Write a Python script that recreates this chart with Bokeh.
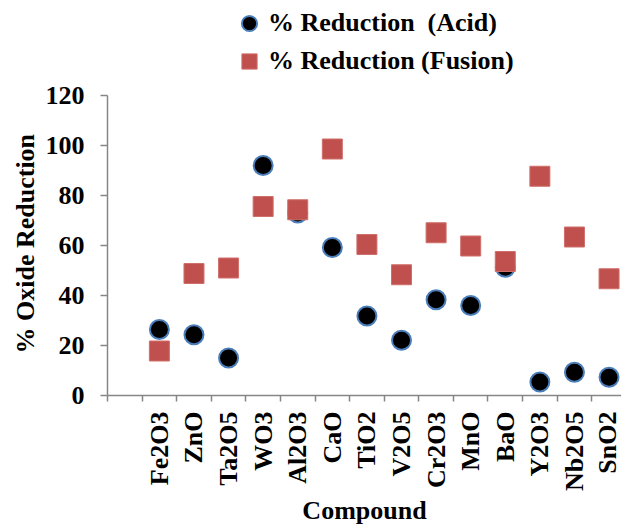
import math
from bokeh.plotting import figure
from bokeh.models import Range1d, FixedTicker, Legend, LegendItem, ColumnDataSource, Title
from bokeh.embed import file_html
from bokeh.resources import INLINE

compounds = ["Fe2O3", "ZnO", "Ta2O5", "WO3", "Al2O3", "CaO", "TiO2", "V2O5",
             "Cr2O3", "MnO", "BaO", "Y2O3", "Nb2O5", "SnO2"]
acid = [26.4, 24.3, 15.0, 92.0, 73.0, 59.2, 31.8, 22.1, 38.3, 36.0, 51.3, 5.4, 9.3, 7.3]
fusion = [17.8, 48.8, 51.0, 75.6, 74.3, 98.6, 60.4, 48.3, 65.1, 59.8, 53.6, 87.7, 63.4, 46.7]
y_ticks = [0, 20, 40, 60, 80, 100, 120]
acid_label = "% Reduction  (Acid)"
fusion_label = "% Reduction (Fusion)"
x_title = "Compound"
y_title = "% Oxide Reduction"

FONT = "Liberation Serif"
AXIS_COLOR = "#868686"

# category i sits in the slot [i+1, i+2]; the first slot is empty
xpos = [i + 1.5 for i in range(len(compounds))]
src = ColumnDataSource(dict(x=xpos, acid=acid, fusion=fusion))

# frame reaches the top of the canvas so the legend can sit above the axis
p = figure(width=621, height=527, output_backend="svg", toolbar_location=None,
           x_range=Range1d(0, 14.86), y_range=Range1d(0, 158),
           min_border_left=107, min_border_right=0, min_border_top=0,
           min_border_bottom=132)
p.outline_line_color = None
p.xgrid.visible = False
p.ygrid.visible = False
p.background_fill_color = "white"
p.border_fill_color = "white"

r_acid = p.scatter("x", "acid", source=src, marker="circle", size=19,
                   fill_color="black", line_color="#4A7EBB", line_width=2)
r_fus = p.scatter("x", "fusion", source=src, marker="square", size=20,
                  fill_color="#C0504D", line_color="#CF6F6B", line_width=1)

# x axis
xa = p.xaxis[0]
xa.ticker = FixedTicker(ticks=xpos, minor_ticks=list(range(0, 16)))
xa.major_label_overrides = {x: c for x, c in zip(xpos, compounds)}
xa.major_tick_out = 0
xa.major_tick_in = 0
xa.minor_tick_out = 6
xa.minor_tick_in = 0
xa.minor_tick_line_color = AXIS_COLOR
xa.minor_tick_line_width = 1.5
xa.axis_line_color = AXIS_COLOR
xa.axis_line_width = 1.5
xa.major_label_orientation = math.pi / 2
xa.major_label_standoff = 10
xa.major_label_text_font = FONT
xa.major_label_text_font_style = "bold"
xa.major_label_text_font_size = "26px"
xa.major_label_text_color = "black"
xa.axis_label = x_title
xa.axis_label_text_font = FONT
xa.axis_label_text_font_style = "bold"
xa.axis_label_text_font_size = "26px"
xa.axis_label_text_color = "black"
xa.axis_label_standoff = 2

# y axis
ya = p.yaxis[0]
ya.ticker = FixedTicker(ticks=y_ticks, minor_ticks=[])
ya.bounds = (0, 120)
ya.major_tick_out = 7
ya.major_tick_in = 0
ya.major_tick_line_color = AXIS_COLOR
ya.major_tick_line_width = 1.5
ya.minor_tick_out = 0
ya.minor_tick_in = 0
ya.axis_line_color = AXIS_COLOR
ya.axis_line_width = 1.5
ya.major_label_standoff = 16
ya.major_label_text_font = FONT
ya.major_label_text_font_style = "bold"
ya.major_label_text_font_size = "26px"
ya.major_label_text_color = "black"

# y title centred on the 0-120 axis rather than on the taller frame
ytitle = Title(text=y_title, align="left", offset=42,
               text_font=FONT, text_font_style="bold", text_font_size="26px",
               text_color="black", standoff=5)
p.add_layout(ytitle, "left")

legend = Legend(items=[LegendItem(label=acid_label, renderers=[r_acid]),
                       LegendItem(label=fusion_label, renderers=[r_fus])],
                location=(123, 315), orientation="vertical",
                label_text_font=FONT, label_text_font_style="bold",
                label_text_font_size="26px", label_text_color="black",
                border_line_color=None, background_fill_alpha=0,
                padding=0, margin=0, spacing=0, label_standoff=0,
                glyph_width=38, glyph_height=38)
p.add_layout(legend, "center")

open("out.html", "w").write(file_html(p, INLINE))
